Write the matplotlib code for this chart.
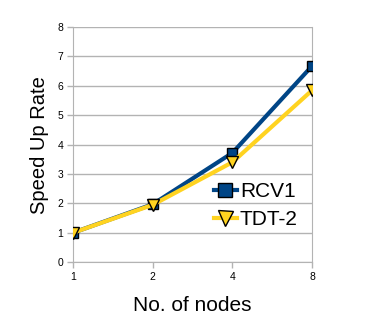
import numpy as np
import matplotlib
matplotlib.use("Agg")
from matplotlib import pyplot as plt

plt.rcParams["font.family"] = ["Liberation Sans", "DejaVu Sans"]

nodes = ["1", "2", "4", "8"]
rcv1 = [1.0, 1.97, 3.72, 6.68]
tdt2 = [1.0, 1.95, 3.40, 5.85]

BLUE = "#004586"
YELLOW = "#ffd320"
GRID = "#b3b3b3"

fig = plt.figure(figsize=(3.69, 3.22), dpi=100)
ax = fig.add_axes([0.198, 0.186, 0.648, 0.730])

x = np.arange(len(nodes))
ax.plot(x, rcv1, color=BLUE, linewidth=3, marker="s", markersize=7,
        markerfacecolor=BLUE, markeredgecolor="black", markeredgewidth=1,
        label="RCV1", zorder=3)
ax.plot(x, tdt2, color=YELLOW, linewidth=3, marker="v", markersize=8,
        markerfacecolor=YELLOW, markeredgecolor="black", markeredgewidth=1,
        label="TDT-2", zorder=4)

ax.set_xlim(0, 3)
ax.set_ylim(0, 8)
ax.set_xticks(x)
ax.set_xticklabels(nodes)
ax.set_yticks(range(0, 9))
ax.tick_params(labelsize=7.5, colors=GRID, labelcolor="black", length=4, width=1, pad=3)
ax.yaxis.grid(True, color=GRID, linewidth=1)
ax.set_axisbelow(True)
for side in ["left", "right", "bottom"]:
    ax.spines[side].set_color(GRID)
ax.spines["top"].set_visible(False)

ax.set_xlabel("No. of nodes", fontsize=15, labelpad=10)
ax.set_ylabel("Speed Up Rate", fontsize=14.5, labelpad=6)

ax.legend(loc="center left", bbox_to_anchor=(0.545, 0.24), frameon=False,
          fontsize=15, handlelength=1.1, handletextpad=0.15, labelspacing=0.45,
          markerscale=1.35, borderpad=0)

fig.savefig("out.png", dpi=100)
